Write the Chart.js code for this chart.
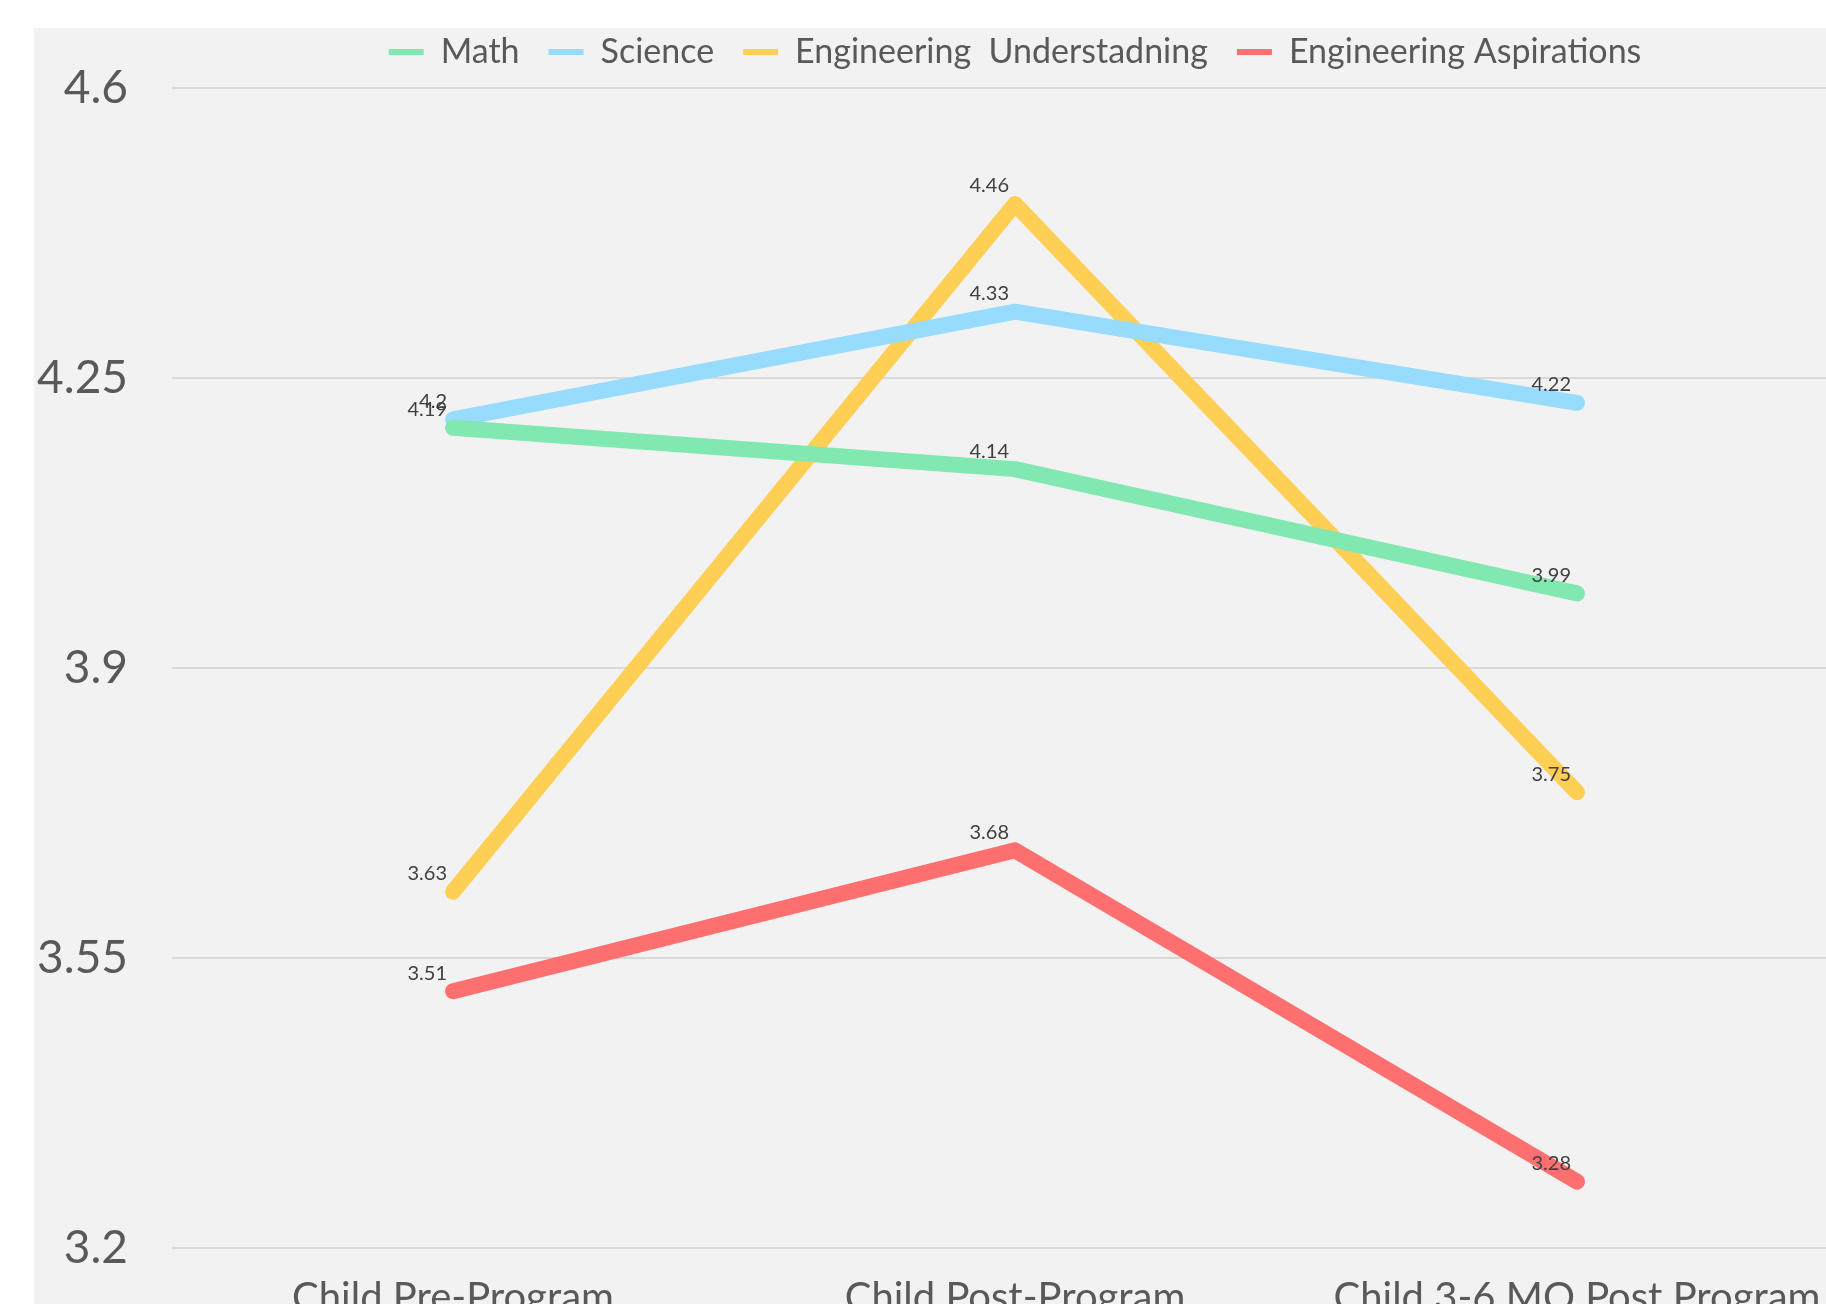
<!DOCTYPE html>
<html>
<head>
<meta charset="utf-8">
<script src="https://cdn.jsdelivr.net/npm/chart.js@4.4.1/dist/chart.umd.min.js"></script>
<style>
    html, body { margin: 0; padding: 0; background: #ffffff; overflow: hidden; width: 1826px; height: 1304px; }
    #panel { position: absolute; left: 34px; top: 28px; width: 1846px; height: 1300px; background: #f2f2f2; }
    #wrap { position: absolute; left: 34px; top: 6px; width: 1846px; height: 1334px; }
</style>
</head>
<body>
<div id="panel"></div>
<div id="wrap"><canvas id="myChart"></canvas></div>
<script>
// Categorias e séries
const categories = ['Child Pre-Program', 'Child Post-Program', 'Child 3-6 MO Post Program'];
const mathValues = [4.19, 4.14, 3.99];
const scienceValues = [4.2, 4.33, 4.22];
const engUnderstandingValues = [3.63, 4.46, 3.75];
const engAspirationsValues = [3.51, 3.68, 3.28];
const yTickValues = [3.2, 3.55, 3.9, 4.25, 4.6];

const fontFamily = 'Lato, "Open Sans", sans-serif';
const textColor = '#595959';

// Espaço extra abaixo da legenda
const legendSpacing = {
    id: 'legendSpacing',
    beforeInit(chart) {
        const originalFit = chart.legend.fit;
        chart.legend.fit = function() {
            originalFit.bind(chart.legend)();
            this.height += 9;
        };
    }
};

// Rótulos de dados desenhados à esquerda e acima de cada ponto
const pointLabels = {
    id: 'pointLabels',
    afterDatasetsDraw(chart) {
        const ctx = chart.ctx;
        ctx.save();
        ctx.font = '20px ' + fontFamily;
        ctx.fillStyle = '#404040';
        ctx.textAlign = 'right';
        ctx.textBaseline = 'middle';
        chart.data.datasets.forEach((ds, i) => {
            const meta = chart.getDatasetMeta(i);
            meta.data.forEach((pt, j) => {
                ctx.fillText(String(ds.data[j]), pt.x - 6, pt.y - 18);
            });
        });
        ctx.restore();
    }
};

const ctx = document.getElementById('myChart').getContext('2d');
new Chart(ctx, {
    type: 'line',
    data: {
        labels: categories,
        datasets: [
            { label: 'Math', data: mathValues, borderColor: '#80e8b0', backgroundColor: '#80e8b0' },
            { label: 'Science', data: scienceValues, borderColor: '#97dbfd', backgroundColor: '#97dbfd' },
            { label: 'Engineering  Understadning', data: engUnderstandingValues, borderColor: '#fecf55', backgroundColor: '#fecf55' },
            { label: 'Engineering Aspirations', data: engAspirationsValues, borderColor: '#fe7070', backgroundColor: '#fe7070' }
        ].map(ds => Object.assign(ds, {
            borderWidth: 16,
            pointRadius: 0,
            pointHoverRadius: 0,
            tension: 0,
            borderCapStyle: 'round',
            borderJoinStyle: 'round',
            fill: false
        }))
    },
    options: {
        responsive: true,
        maintainAspectRatio: false,
        animation: false,
        layout: { padding: { top: 0, right: 22, bottom: 0, left: 0 } },
        scales: {
            x: {
                offset: true,
                grid: { display: false },
                border: { display: false },
                ticks: {
                    color: textColor,
                    font: { family: fontFamily, size: 40 },
                    padding: 18,
                    maxRotation: 0,
                    autoSkip: false
                }
            },
            y: {
                min: 3.2,
                max: 4.6,
                afterBuildTicks: function(scale) {
                    scale.ticks = yTickValues.map(v => ({ value: v }));
                },
                afterFit: function(scale) {
                    scale.width = 138;
                },
                grid: { color: '#d9d9d9', lineWidth: 2, drawTicks: false },
                border: { display: false },
                ticks: {
                    color: textColor,
                    font: { family: fontFamily, size: 46 },
                    padding: 44,
                    callback: function(value) {
                        return String(value);
                    }
                }
            }
        },
        plugins: {
            legend: {
                position: 'top',
                fullSize: false,
                labels: {
                    color: textColor,
                    font: { family: fontFamily, size: 34 },
                    boxWidth: 35,
                    boxHeight: 6,
                    padding: 29,
                    generateLabels: function(chart) {
                        const items = Chart.defaults.plugins.legend.labels.generateLabels(chart);
                        items.forEach(item => { item.lineWidth = 0; });
                        return items;
                    }
                }
            },
            tooltip: { enabled: false }
        }
    },
    plugins: [legendSpacing, pointLabels]
});
</script>
</body>
</html>
